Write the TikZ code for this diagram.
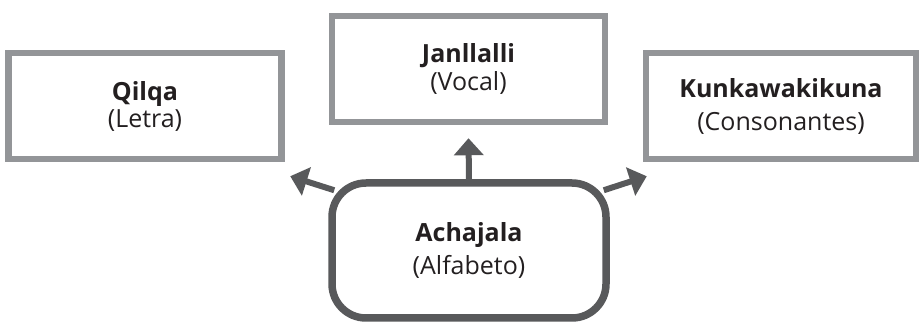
\documentclass[tikz,border=0pt]{standalone}
\usepackage{fontspec}
\setmainfont{Open Sans}
\definecolor{framegray}{RGB}{147, 149, 152}
\definecolor{rootgray}{RGB}{88, 89, 91}
\definecolor{inkblack}{RGB}{35, 31, 32}
\usetikzlibrary{arrows.meta, positioning, calc}

\tikzset{
  termbox/.style={draw=framegray, line width=6.5pt, fill=white, minimum width=273pt,
    minimum height=106pt, align=center, text=inkblack, inner sep=0pt,
    font=\fontsize{25}{33}\selectfont},
  rootbox/.style={draw=rootgray, line width=7.5pt, rounded corners=34pt, fill=white,
    minimum width=274pt, minimum height=135pt, align=center, text=inkblack, inner sep=0pt,
    font=\fontsize{25}{33}\selectfont},
  link/.style={draw=rootgray, line width=6pt, -{Triangle[length=17pt, width=29pt]}}
}

\begin{document}
\begin{tikzpicture}[x=1pt, y=-1pt]
  \useasboundingbox (0,0) rectangle (921,328);

  % the three word boxes
  \node[termbox] (qilqa) at (145,106) {\textbf{Qilqa}\\[-6pt](Letra)};
  \node[termbox] (janllalli) at (468.5,69) {\textbf{Janllalli}\\[-5pt](Vocal)};
  \node[termbox, minimum width=270pt] (kunka) at (781,106) {\textbf{Kunkawakikuna}\\(Consonantes)};

  % root box
  \node[rootbox] (achajala) at (469,250.5) {\textbf{Achajala}\\(Alfabeto)};

  % arrows out of the root
  \draw[link] (achajala.north) -- ($(janllalli.south)+(0,13)$);
  \draw[link] ($(achajala.north west)+(6,11)$) -- ($(qilqa.south east)+(5.5,14)$);
  \draw[link] ($(achajala.north east)+(-6,11)$) -- ($(kunka.south west)+(4,14)$);
\end{tikzpicture}
\end{document}
